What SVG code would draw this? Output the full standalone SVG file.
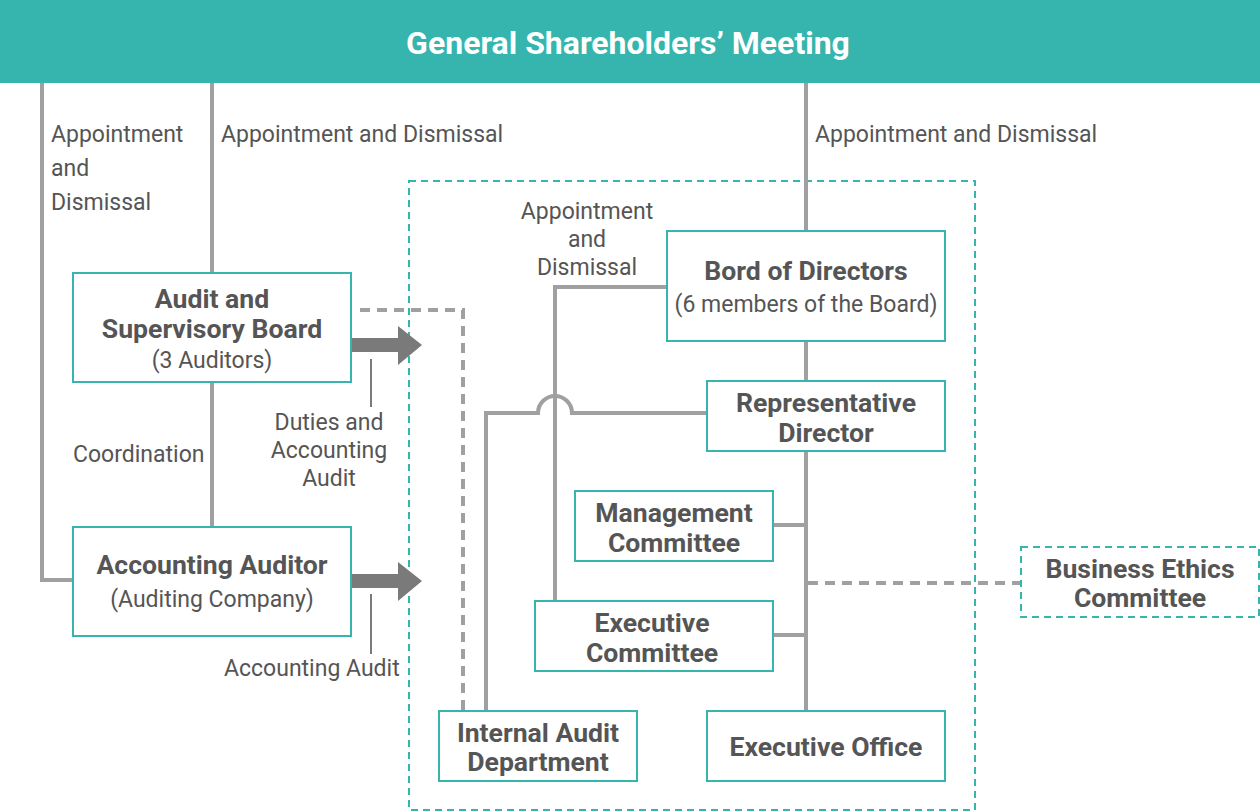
<svg xmlns="http://www.w3.org/2000/svg" width="1260" height="812" viewBox="0 0 1260 812">
<style>
.box{fill:#fff;stroke:#35B5AD;stroke-width:2}
.dbox{fill:#fff;stroke:#35B5AD;stroke-width:2;stroke-dasharray:7 5}
.ln{fill:none;stroke:#A0A0A0;stroke-width:4}
.dl{fill:none;stroke:#A0A0A0;stroke-width:4;stroke-dasharray:10 7}
.t{font-family:Roboto,"Liberation Sans",sans-serif;font-size:23px;fill:#555}
.b{font-family:Roboto,"Liberation Sans",sans-serif;font-size:26.6px;font-weight:bold;fill:#555}
.m{text-anchor:middle}
</style>
<rect x="0" y="0" width="1260" height="83" fill="#35B5AD"/>
<text x="628" y="54" text-anchor="middle" font-family="Roboto,'Liberation Sans',sans-serif" font-size="32" font-weight="bold" fill="#fff">General Shareholders’ Meeting</text>
<rect class="dbox" x="409" y="181" width="566" height="629"/>
<g id="connectors">
<path class="ln" d="M42 83V580H72"/>
<path class="ln" d="M212 83V272M212 383V526"/>
<path class="ln" d="M806 83V231M806 341V380M806 451V710"/>
<path class="ln" d="M773 525H806M773 635H806"/>
<path class="ln" d="M666 287H555V601"/>
<path class="ln" d="M707 413H572A17 17 0 0 0 538 413H486V710"/>
<path class="dl" d="M360 310H463V710"/>
<path class="dl" d="M808 583H1021"/>
<path d="M351 338H398V326L422 345L398 365V352H351Z" fill="#7A7A7A"/>
<path d="M351 574H398V562L422 581L398 601V588H351Z" fill="#7A7A7A"/>
<path d="M371 359V407M371 594V654" stroke="#7A7A7A" stroke-width="2"/>
</g>
<g id="audit-board"><rect class="box" x="73" y="273" width="278" height="109"/>
<text class="b m" x="212" y="308">Audit and</text><text class="b m" x="212" y="338">Supervisory Board</text><text class="t m" x="212" y="368">(3 Auditors)</text></g>
<g id="accounting-auditor"><rect class="box" x="73" y="527" width="278" height="109"/>
<text class="b m" x="212" y="574">Accounting Auditor</text><text class="t m" x="212" y="607">(Auditing Company)</text></g>
<g id="board"><rect class="box" x="667" y="231" width="278" height="110"/>
<text class="b m" x="806" y="280">Bord of Directors</text><text class="t m" x="806" y="312">(6 members of the Board)</text></g>
<g id="rep-director"><rect class="box" x="707" y="381" width="238" height="70"/>
<text class="b m" x="826" y="412">Representative</text><text class="b m" x="826" y="442">Director</text></g>
<g id="mgmt"><rect class="box" x="575" y="491" width="198" height="70"/>
<text class="b m" x="674" y="522">Management</text><text class="b m" x="674" y="552">Committee</text></g>
<g id="exec-committee"><rect class="box" x="535" y="601" width="238" height="70"/>
<text class="b m" x="652" y="632">Executive</text><text class="b m" x="652" y="662">Committee</text></g>
<g id="internal-audit"><rect class="box" x="439" y="711" width="198" height="70"/>
<text class="b m" x="538" y="742">Internal Audit</text><text class="b m" x="538" y="771">Department</text></g>
<g id="exec-office"><rect class="box" x="707" y="711" width="238" height="70"/>
<text class="b m" x="826" y="756">Executive Office</text></g>
<g id="ethics"><rect class="dbox" x="1021" y="547" width="238" height="70"/>
<text class="b m" x="1140" y="578">Business Ethics</text><text class="b m" x="1140" y="607">Committee</text></g>
<g id="labels">
<text class="t" x="51" y="142">Appointment</text><text class="t" x="51" y="176">and</text><text class="t" x="51" y="210">Dismissal</text>
<text class="t" x="221" y="142">Appointment and Dismissal</text>
<text class="t" x="815" y="142">Appointment and Dismissal</text>
<text class="t m" x="587" y="219">Appointment</text><text class="t m" x="587" y="247">and</text><text class="t m" x="587" y="275">Dismissal</text>
<text class="t" x="73" y="462">Coordination</text>
<text class="t m" x="329" y="430">Duties and</text><text class="t m" x="329" y="458">Accounting</text><text class="t m" x="329" y="486">Audit</text>
<text class="t" x="224" y="676">Accounting Audit</text>
</g>
</svg>
